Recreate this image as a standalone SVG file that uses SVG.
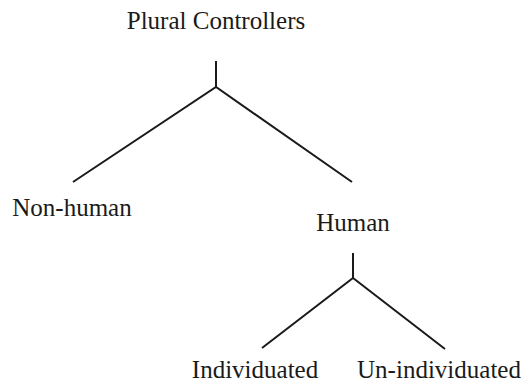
<svg xmlns="http://www.w3.org/2000/svg" width="531" height="383" viewBox="0 0 531 383">
  <style>
    .lbl { font-family: "Liberation Serif", "Times New Roman", serif; font-size: 25px; fill: #1a1a1a; text-anchor: middle; }
    .edge { stroke: #1a1a1a; stroke-width: 2; fill: none; stroke-linecap: butt; stroke-linejoin: miter; }
  </style>
  <rect width="531" height="383" fill="#ffffff"/>
  <g id="connectors">
    <path class="edge" d="M216 61 V87 M73 182 L216 87 L352 182"/>
    <path class="edge" d="M353 253 V278 M262 348 L353 278 L445 349"/>
  </g>
  <g id="plural-controllers"><text class="lbl" x="216" y="29">Plural Controllers</text></g>
  <g id="non-human"><text class="lbl" x="72" y="216">Non-human</text></g>
  <g id="human"><text class="lbl" x="353" y="231">Human</text></g>
  <g id="individuated"><text class="lbl" x="255" y="378">Individuated</text></g>
  <g id="un-individuated"><text class="lbl" x="439" y="378">Un-individuated</text></g>
</svg>
